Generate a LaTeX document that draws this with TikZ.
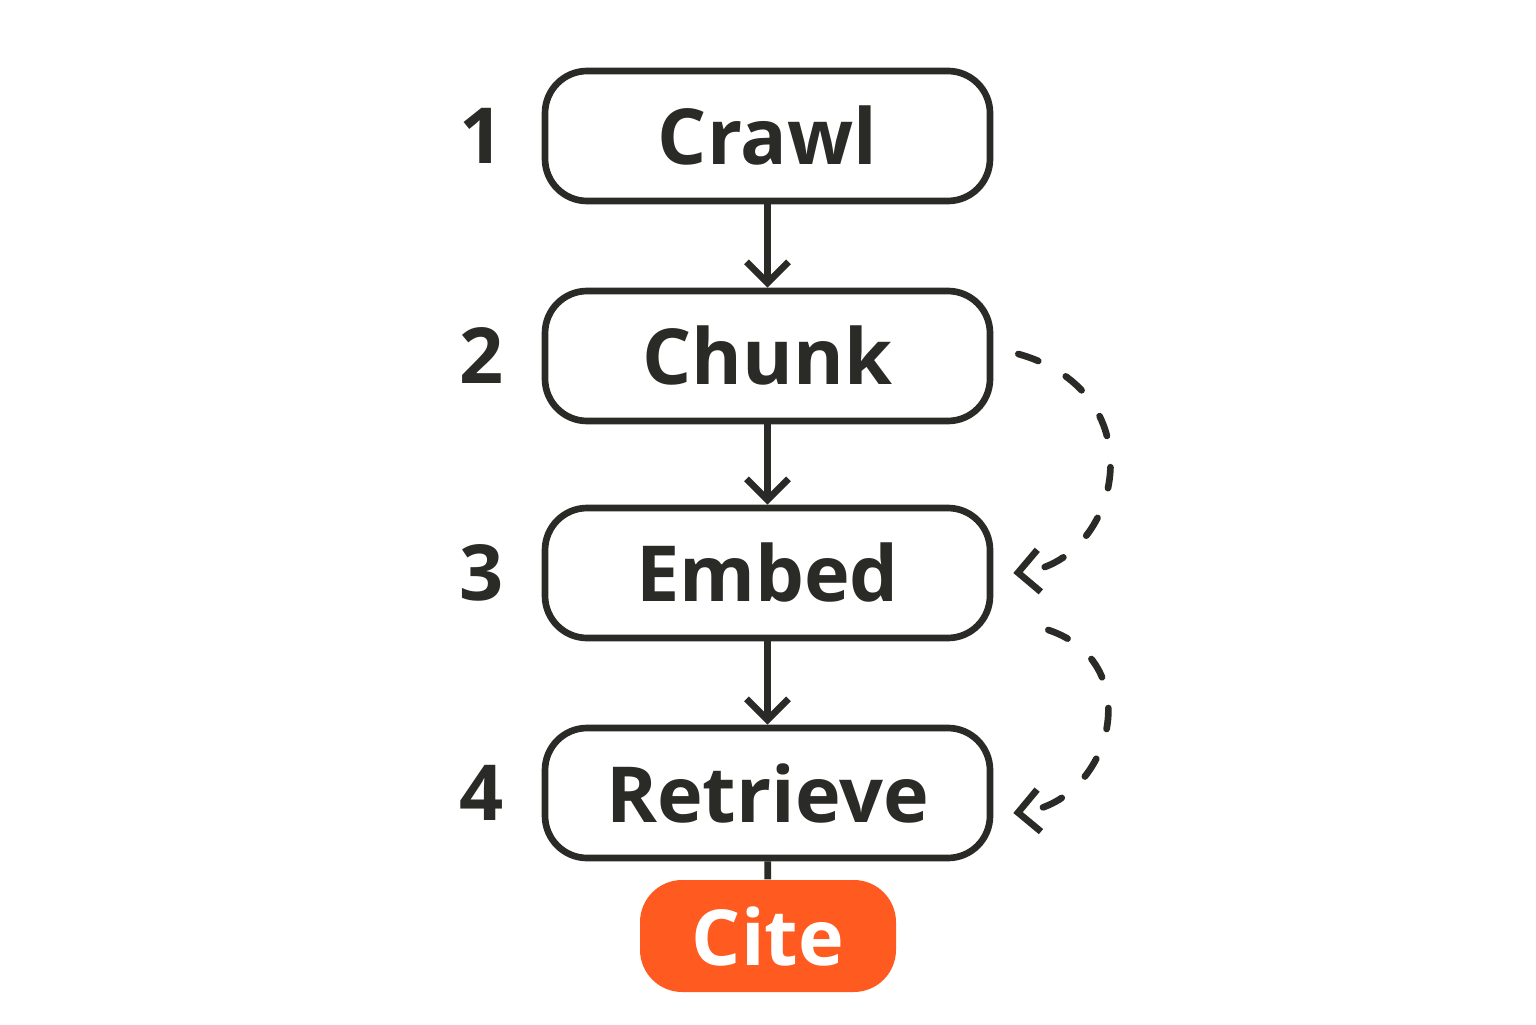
\documentclass[tikz,border=0pt]{standalone}
\usepackage{fontspec}
\setmainfont{Open Sans}
\usepackage{xcolor}
\usetikzlibrary{arrows.meta, positioning, calc}
\definecolor{citeorange}{HTML}{FF5A1F}
\definecolor{ink}{HTML}{2A2A26}
\tikzset{
    stage/.style={draw=ink, line width=1.9pt, rounded corners=12pt, minimum width=4.45cm, minimum height=1.3cm, inner sep=0pt, font=\fontsize{22}{24}\selectfont\bfseries, text=ink},
    num/.style={font=\fontsize{22}{24}\selectfont\bfseries, text=ink},
    flow/.style={->, >={Straight Barb[length=6pt, width=12pt]}, line width=1.9pt, draw=ink},
    loop/.style={->, >={Straight Barb[length=6pt, width=12pt]}, line width=1.9pt, draw=ink, dash pattern=on 6pt off 9pt, line cap=round}
}

\begin{document}
\begin{tikzpicture}
    \useasboundingbox (0,0) rectangle (15.36,10.24);
    % pipeline steps
    \node[stage] (crawl) at (7.675,8.88) {Crawl};
    \node[stage] (chunk) at (7.675,6.68) {Chunk};
    \node[stage] (embed) at (7.675,4.51) {Embed};
    \node[stage] (retrieve) at (7.675,2.31) {Retrieve};
    \node[fill=citeorange, rounded corners=12pt, minimum width=2.56cm, minimum height=1.12cm,
          font=\fontsize{22}{24}\selectfont\bfseries, text=white] (cite) at (7.68,0.88) {Cite};
    % step numbers
    \node[num] (n1) at (4.82,8.88) {1};
    \node[num] (n2) at (4.82,6.68) {2};
    \node[num] (n3) at (4.82,4.51) {3};
    \node[num] (n4) at (4.82,2.31) {4};
    % arrows
    \draw[flow] (crawl) -- (chunk);
    \draw[flow] (chunk) -- (embed);
    \draw[flow] (embed) -- (retrieve);
    \draw[line width=1.9pt, draw=ink] (retrieve) -- (cite);
    % feedback loops
    \coordinate (l1s) at ($(chunk.east)+(0.25,0.02)$);
    \coordinate (l1e) at ($(embed.east)+(0.2,0)$);
    \coordinate (l2s) at ($(embed.east)+(0.55,-0.57)$);
    \coordinate (l2e) at ($(retrieve.east)+(0.2,-0.2)$);
    \draw[loop] (l1s) .. controls (11.6,6.3) and (11.2,4.6) .. (l1e);
    \draw[loop] (l2s) .. controls (11.5,3.6) and (11.1,2.2) .. (l2e);
\end{tikzpicture}
\end{document}
